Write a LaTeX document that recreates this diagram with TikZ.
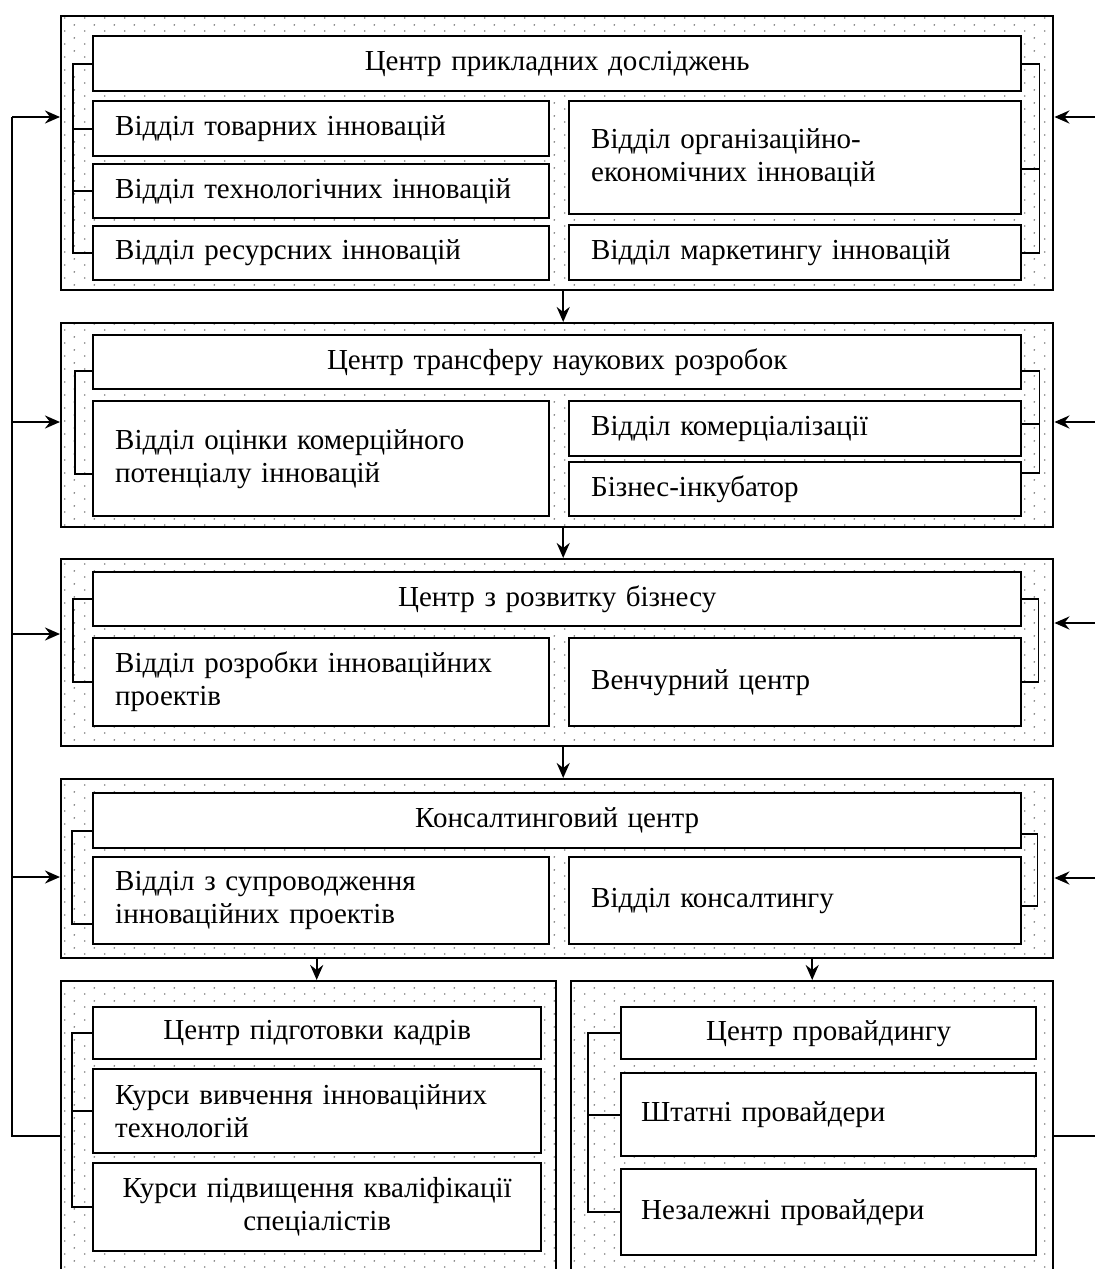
\documentclass[tikz,border=0pt]{standalone}
\usepackage{fontspec}
\setmainfont{Liberation Serif}
\usetikzlibrary{arrows.meta,patterns}

\pgfdeclarepatternformonly{sitedots}{\pgfpointorigin}{\pgfpoint{10pt}{6.5pt}}{\pgfpoint{10pt}{6.5pt}}{
	\pgfpathcircle{\pgfpoint{2.5pt}{1.6pt}}{0.5pt}
	\pgfpathcircle{\pgfpoint{7.5pt}{4.85pt}}{0.5pt}
	\pgfusepath{fill}}

\begin{document}
\begin{tikzpicture}[x=0.5pt, y=-0.5pt, line width=1.2pt,
	>={Stealth[length=7.5pt,width=6.5pt,inset=2.5pt]},
	grp/.style={draw, pattern=sitedots, pattern color=gray, anchor=north west, inner sep=0pt},
	unit/.style={draw, fill=white, anchor=north west, inner xsep=11pt, inner ysep=0pt, align=left,
		font=\fontsize{14.5}{16.5}\selectfont},
	head/.style={unit, align=center},
	wide/.style={text width=442pt},
	lhalf/.style={text width=206pt},
	rhalf/.style={text width=204pt},
	brk/.style={line width=0.9pt}]
	\useasboundingbox (0,0) rectangle (1095,1269);
	% centre of applied research
	\node[grp, minimum width=496pt, minimum height=137pt] (g1) at (60,15) {};
	\node[head, wide, minimum height=27.5pt] (apl) at (92,35) {Центр прикладних досліджень};
	\node[unit, lhalf, minimum height=27.5pt] (tov) at (92,100) {Відділ товарних інновацій};
	\node[unit, lhalf, minimum height=27pt] (tech) at (92,163) {Відділ технологічних інновацій};
	\node[unit, lhalf, minimum height=27pt] (res) at (92,225) {Відділ ресурсних інновацій};
	\node[unit, rhalf, minimum height=56.5pt] (org) at (568,100) {Відділ організаційно-\\економічних інновацій};
	\node[unit, rhalf, minimum height=27.5pt] (mkt) at (568,224) {Відділ маркетингу інновацій};
	\draw[brk] (apl.west) -- ++(-19,0) |- (res.west);
	\draw[brk] (tov.west) -- ++(-19,0);
	\draw[brk] (tech.west) -- ++(-19,0);
	\draw[brk] (apl.east) -- ++(17,0) |- (mkt.east);
	\draw[brk] ([yshift=-5.5pt]org.east) -- ++(17,0);
	% transfer centre
	\node[grp, minimum width=496pt, minimum height=102pt] (g2) at (60,322) {};
	\node[head, wide, minimum height=27pt] (trf) at (92,334) {Центр трансферу наукових розробок};
	\node[unit, lhalf, minimum height=57.5pt] (ots) at (92,400) {Відділ оцінки комерційного\\потенціалу інновацій};
	\node[unit, rhalf, minimum height=27.5pt] (kom) at (568,400) {Відділ комерціалізації};
	\node[unit, rhalf, minimum height=27pt] (biz) at (568,461) {Бізнес-інкубатор};
	\draw[brk] ([yshift=-4.5pt]trf.west) -- ++(-17,0) |- ([yshift=-7.5pt]ots.west);
	\draw[brk] ([yshift=-4.5pt]trf.east) -- ++(17,0) |- ([yshift=8pt]biz.east);
	\draw[brk] ([yshift=2.5pt]kom.east) -- ++(17,0);
	% business development
	\node[grp, minimum width=496pt, minimum height=93.5pt] (g3) at (60,558) {};
	\node[head, wide, minimum height=27pt] (rozv) at (92,571) {Центр з розвитку бізнесу};
	\node[unit, lhalf, minimum height=44pt] (rozr) at (92,637) {Відділ розробки інноваційних\\проектів};
	\node[unit, rhalf, minimum height=44pt] (ven) at (568,637) {Венчурний центр};
	\draw[brk] (rozv.west) -- ++(-19,0) |- (rozr.west);
	\draw[brk] (rozv.east) -- ++(16,0) |- (ven.east);
	% consulting
	\node[grp, minimum width=496pt, minimum height=89.5pt] (g4) at (60,778) {};
	\node[head, wide, minimum height=27.5pt] (kons) at (92,792) {Консалтинговий центр};
	\node[unit, lhalf, minimum height=43.5pt] (supr) at (92,856) {Відділ з супроводження\\інноваційних проектів};
	\node[unit, rhalf, minimum height=43.5pt] (kdep) at (568,856) {Відділ консалтингу};
	\draw[brk] ([yshift=-5pt]kons.west) -- ++(-20,0) |- ([yshift=-11.5pt]supr.west);
	\draw[brk] ([yshift=-6.5pt]kons.east) -- ++(15,0) |- ([yshift=-2.5pt]kdep.east);
	% staff training
	\node[grp, minimum width=247.5pt, minimum height=155pt] (g5) at (60,980) {};
	\node[head, text width=202pt, minimum height=26pt] (kadr) at (92,1006) {Центр підготовки кадрів};
	\node[unit, text width=202pt, minimum height=42pt] (kvyv) at (92,1068) {Курси вивчення інноваційних\\технологій};
	\node[head, text width=202pt, minimum height=44pt] (kpidv) at (92,1162) {Курси підвищення кваліфікації\\спеціалістів};
	\draw[brk] (kadr.west) -- ++(-20,0) |- (kpidv.west);
	\draw[brk] (kvyv.west) -- ++(-20,0);
	% providing
	\node[grp, minimum width=241pt, minimum height=155pt] (g6) at (570,980) {};
	\node[head, text width=185.5pt, minimum height=26pt] (prov) at (620,1006) {Центр провайдингу};
	\node[unit, inner xsep=10pt, text width=187.5pt, minimum height=41.5pt] (shtat) at (620,1072) {Штатні провайдери};
	\node[unit, inner xsep=10pt, text width=187.5pt, minimum height=43pt] (nezal) at (620,1168) {Незалежні провайдери};
	\draw[brk] (prov.west) -- ++(-32,0) |- (nezal.west);
	\draw[brk] (shtat.west) -- ++(-32,0);
	% flow between the centres
	\draw[->] ([xshift=3pt]g1.south) -- ([xshift=3pt]g1.south |- g2.north);
	\draw[->] ([xshift=3pt]g2.south) -- ([xshift=3pt]g2.south |- g3.north);
	\draw[->] ([xshift=3pt]g3.south) -- ([xshift=3pt]g3.south |- g4.north);
	\path ([xshift=4pt]g5.north) coordinate (a5);
	\draw[->] (a5 |- g4.south) -- (a5);
	\draw[->] (g6.north |- g4.south) -- (g6.north);
	% feedback lines
	\coordinate (l1) at (12,117);
	\coordinate (l2) at (12,422);
	\coordinate (l3) at (12,634);
	\coordinate (l4) at (12,877);
	\coordinate (r1) at (1095,117);
	\coordinate (r2) at (1095,422);
	\coordinate (r3) at (1095,623);
	\coordinate (r4) at (1095,878);
	\coordinate (r5) at (1095,1135);
	\draw (g5.west) -| (l1);
	\draw (g6.east) -- (g6.east -| r5);
	\foreach \i in {1,...,4} {
		\draw[->] (l\i) -- (l\i -| g\i.west);
		\draw[->] (r\i) -- (r\i -| g\i.east);
	}
\end{tikzpicture}
\end{document}
